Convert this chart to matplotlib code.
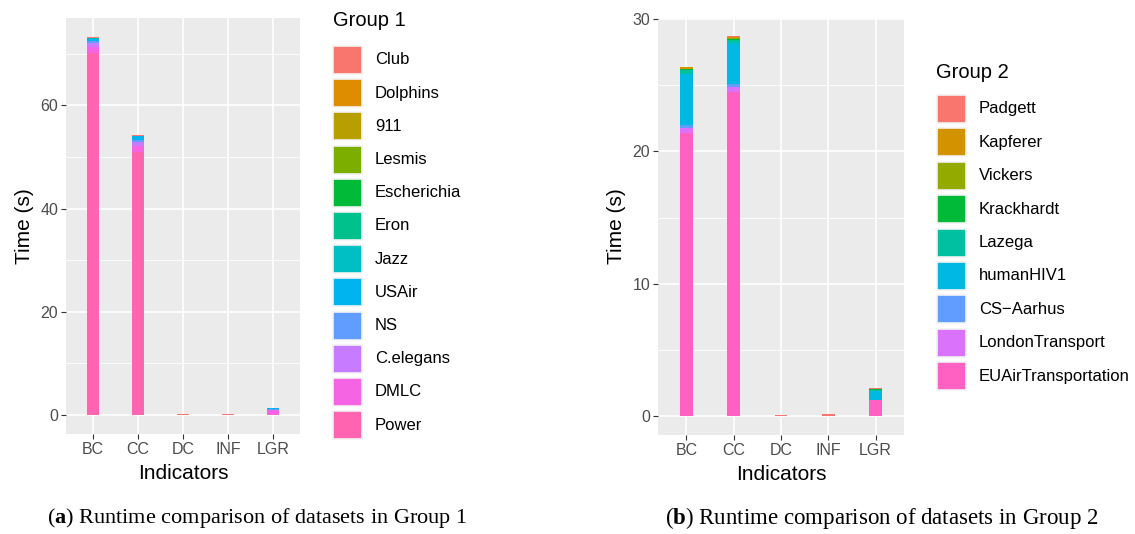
import matplotlib
matplotlib.use('Agg')
import matplotlib.pyplot as plt
from matplotlib.patches import Rectangle
from matplotlib.ticker import MultipleLocator
import numpy as np

plt.rcParams['font.family'] = ['Liberation Sans', 'DejaVu Sans']
plt.rcParams['mathtext.fontset'] = 'custom'
plt.rcParams['mathtext.rm'] = 'Liberation Serif'
plt.rcParams['mathtext.bf'] = 'Liberation Serif:bold'

INDICATORS = ["BC", "CC", "DC", "INF", "LGR"]

# Group 1 datasets (legend order, first one sits on top of the stack)
G1_NAMES = ["Club", "Dolphins", "911", "Lesmis", "Escherichia", "Eron",
            "Jazz", "USAir", "NS", "C.elegans", "DMLC", "Power"]
G1_COLORS = ["#F8766D", "#DE8C00", "#B79F00", "#7CAE00", "#00BA38", "#00C08B",
             "#00BFC4", "#00B4F0", "#619CFF", "#C77CFF", "#F564E3", "#FF64B0"]
#                 BC     CC     DC    INF   LGR
G1_VALUES = {
    "Club":        [0.25,  0.20, 0.12, 0.10, 0.10],
    "Dolphins":    [0.01,  0.01, 0.00, 0.00, 0.00],
    "911":         [0.01,  0.01, 0.00, 0.00, 0.00],
    "Lesmis":      [0.01,  0.01, 0.00, 0.00, 0.00],
    "Escherichia": [0.01,  0.01, 0.00, 0.00, 0.00],
    "Eron":        [0.01,  0.01, 0.00, 0.00, 0.00],
    "Jazz":        [0.05,  0.05, 0.00, 0.00, 0.02],
    "USAir":       [0.50,  0.80, 0.01, 0.01, 0.15],
    "NS":          [0.30,  0.40, 0.01, 0.01, 0.10],
    "C.elegans":   [0.80,  0.70, 0.01, 0.01, 0.08],
    "DMLC":        [1.20,  1.10, 0.01, 0.01, 0.95],
    "Power":       [70.1,  51.0, 0.02, 0.02, 0.05],
}

# Group 2 datasets
G2_NAMES = ["Padgett", "Kapferer", "Vickers", "Krackhardt", "Lazega",
            "humanHIV1", "CS\u2212Aarhus", "LondonTransport", "EUAirTransportation"]
G2_COLORS = ["#F8766D", "#D39200", "#93AA00", "#00BA38", "#00C19F",
             "#00B9E3", "#619CFF", "#DB72FB", "#FF61C3"]
G2_VALUES = {
    "Padgett":             [0.05, 0.05, 0.05, 0.15, 0.08],
    "Kapferer":            [0.10, 0.10, 0.00, 0.00, 0.01],
    "Vickers":             [0.03, 0.03, 0.00, 0.00, 0.01],
    "Krackhardt":          [0.08, 0.05, 0.00, 0.00, 0.03],
    "Lazega":              [0.26, 0.27, 0.00, 0.00, 0.07],
    "humanHIV1":           [3.87, 3.10, 0.00, 0.00, 0.70],
    "CS\u2212Aarhus":      [0.23, 0.25, 0.00, 0.00, 0.01],
    "LondonTransport":     [0.38, 0.33, 0.00, 0.00, 0.01],
    "EUAirTransportation": [21.4, 24.5, 0.01, 0.01, 1.20],
}

FIG_W, FIG_H = 1135, 534
BAR_W = 0.27
PANEL_BG = '#EBEBEB'


def px_rect(x0, y0, x1, y1):
    # pixel box (top-left origin) -> figure fraction rect
    return [x0 / FIG_W, (FIG_H - y1) / FIG_H, (x1 - x0) / FIG_W, (y1 - y0) / FIG_H]


def draw_legend(fig, names, colors, title, title_xy, key_x, key_y0, step):
    tx, ty = title_xy
    fig.text(tx / FIG_W, 1 - ty / FIG_H, title, fontsize=14.5,
             ha='left', va='center')
    kw, kh = 29, 28
    for i, (name, col) in enumerate(zip(names, colors)):
        cy = key_y0 + i * step
        fig.add_artist(Rectangle(
            (key_x / FIG_W, 1 - (cy + kh / 2) / FIG_H), kw / FIG_W, kh / FIG_H,
            transform=fig.transFigure, facecolor=col, edgecolor='#F2F2F2',
            linewidth=1.2))
        fig.text((key_x + kw + 13) / FIG_W, 1 - cy / FIG_H, name,
                 fontsize=12, ha='left', va='center')


def draw_panel(ax, names, colors, values, major, minor):
    x = np.arange(len(INDICATORS))
    bottom = np.zeros(len(INDICATORS))
    # stack from the last level upward, like ggplot's position_stack
    for name, col in zip(names[::-1], colors[::-1]):
        v = np.array(values[name])
        ax.bar(x, v, BAR_W, bottom=bottom, color=col, linewidth=0, zorder=3)
        bottom += v

    top = bottom.max()
    ax.set_ylim(-0.05 * top, 1.05 * top)
    ax.set_xlim(-0.6, len(INDICATORS) - 0.4)
    ax.set_facecolor(PANEL_BG)
    for s in ax.spines.values():
        s.set_visible(False)

    ax.yaxis.set_major_locator(MultipleLocator(major))
    ax.yaxis.set_minor_locator(MultipleLocator(minor))
    ax.set_xticks(x)
    ax.set_xticklabels(INDICATORS)
    ax.grid(which='major', color='white', lw=1.2, zorder=1)
    ax.grid(which='minor', axis='y', color='white', lw=0.6, zorder=1)
    ax.tick_params(which='major', length=3.5, width=0.8, color='#333333',
                   labelcolor='#4D4D4D', labelsize=11.5, pad=2)
    ax.tick_params(which='minor', length=0)
    ax.set_xlabel("Indicators", fontsize=15, labelpad=5)
    ax.set_ylabel("Time (s)", fontsize=15, labelpad=5)


fig = plt.figure(figsize=(FIG_W / 100, FIG_H / 100), dpi=100)
ax1 = fig.add_axes(px_rect(66, 18, 300, 434))
ax2 = fig.add_axes(px_rect(658, 17.5, 904, 435))

draw_panel(ax1, G1_NAMES, G1_COLORS, G1_VALUES, 20, 10)
draw_panel(ax2, G2_NAMES, G2_COLORS, G2_VALUES, 10, 5)

draw_legend(fig, G1_NAMES, G1_COLORS, "Group 1", (333, 21), 333, 60, 33.2)
draw_legend(fig, G2_NAMES, G2_COLORS, "Group 2", (936, 73), 937, 109, 33.4)

fig.text(257 / FIG_W, 1 - 518 / FIG_H,
         r"($\mathbf{a}$) Runtime comparison of datasets in Group 1",
         ha='center', va='center', fontsize=16, family='Liberation Serif')
fig.text(882 / FIG_W, 1 - 518 / FIG_H,
         r"($\mathbf{b}$) Runtime comparison of datasets in Group 2",
         ha='center', va='center', fontsize=16.5, family='Liberation Serif')

fig.savefig("out.png", dpi=100)
